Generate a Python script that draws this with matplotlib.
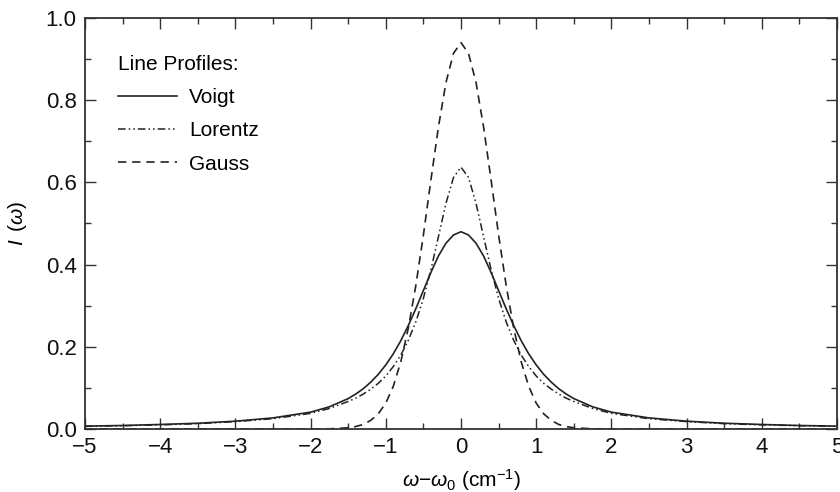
import matplotlib
matplotlib.use("Agg")
import matplotlib.pyplot as plt
from matplotlib.ticker import MultipleLocator

plt.rcParams['font.family'] = ['Liberation Sans', 'DejaVu Sans']
plt.rcParams['mathtext.fontset'] = 'custom'
plt.rcParams['mathtext.rm'] = 'Liberation Sans'
plt.rcParams['mathtext.it'] = 'Liberation Sans:italic'

# frequency offset (cm^-1)
x = [-5.0, -4.5, -4.0, -3.5, -3.0, -2.5, -2.0, -1.75, -1.5, -1.4, -1.3, -1.2,
     -1.1, -1.0, -0.9, -0.8, -0.7, -0.6, -0.5, -0.4, -0.3, -0.2, -0.1, 0.0,
     0.1, 0.2, 0.3, 0.4, 0.5, 0.6, 0.7, 0.8, 0.9, 1.0, 1.1, 1.2,
     1.3, 1.4, 1.5, 1.75, 2.0, 2.5, 3.0, 3.5, 4.0, 4.5, 5.0]

voigt = [0.007, 0.0085, 0.011, 0.014, 0.019, 0.027, 0.041, 0.054, 0.074, 0.085, 0.098, 0.114,
         0.133, 0.156, 0.183, 0.215, 0.252, 0.293, 0.337, 0.381, 0.421, 0.452, 0.472, 0.480,
         0.472, 0.452, 0.421, 0.381, 0.337, 0.293, 0.252, 0.215, 0.183, 0.156, 0.133, 0.114,
         0.098, 0.085, 0.074, 0.054, 0.041, 0.027, 0.019, 0.014, 0.011, 0.0085, 0.007]

lorentz = [0.0065, 0.008, 0.010, 0.013, 0.018, 0.025, 0.038, 0.050, 0.067, 0.075, 0.085, 0.097,
           0.111, 0.129, 0.152, 0.180, 0.216, 0.261, 0.318, 0.388, 0.468, 0.549, 0.612, 0.637,
           0.612, 0.549, 0.468, 0.388, 0.318, 0.261, 0.216, 0.180, 0.152, 0.129, 0.111, 0.097,
           0.085, 0.075, 0.067, 0.050, 0.038, 0.025, 0.018, 0.013, 0.010, 0.008, 0.0065]

gauss = [0.0, 0.0, 0.0, 0.0, 0.0, 0.0, 0.0, 0.0005, 0.003, 0.006, 0.011, 0.021,
         0.037, 0.063, 0.104, 0.164, 0.246, 0.350, 0.472, 0.606, 0.735, 0.843, 0.914, 0.940,
         0.914, 0.843, 0.735, 0.606, 0.472, 0.350, 0.246, 0.164, 0.104, 0.063, 0.037, 0.021,
         0.011, 0.006, 0.003, 0.0005, 0.0, 0.0, 0.0, 0.0, 0.0, 0.0, 0.0]

labels = ["Voigt", "Lorentz", "Gauss"]
xtick_labels = ['\u22125', '\u22124', '\u22123', '\u22122', '\u22121', '0', '1', '2', '3', '4', '5']
ytick_labels = ['0.0', '0.2', '0.4', '0.6', '0.8', '1.0']

W, H = 840, 492
fig = plt.figure(figsize=(W / 100, H / 100), dpi=100)
ax = fig.add_axes([85 / W, 1 - 429 / H, (837 - 85) / W, (429 - 18) / H])

lc = '#222222'
ax.plot(x, voigt, color=lc, lw=1.2, label=labels[0])
ax.plot(x, lorentz, color=lc, lw=1.1, dashes=[5, 2, 1, 2, 1, 2], label=labels[1])
ax.plot(x, gauss, color=lc, lw=1.2, dashes=[5, 3.5], label=labels[2])

ax.set_xlim(-5, 5)
ax.set_ylim(0, 1.0)
ax.xaxis.set_minor_locator(MultipleLocator(0.5))
ax.yaxis.set_minor_locator(MultipleLocator(0.1))
ax.set_xticks(range(-5, 6))
ax.set_xticklabels(xtick_labels)
ax.set_yticks([0, 0.2, 0.4, 0.6, 0.8, 1.0])
ax.set_yticklabels(ytick_labels)

ax.tick_params(which='both', direction='in', top=True, right=True, colors='#333333',
               labelcolor='#111111', labelsize=16, width=1.0)
ax.tick_params(which='major', length=8, pad=6)
ax.tick_params(which='minor', length=4.5)
for s in ax.spines.values():
    s.set_color('#333333')
    s.set_linewidth(1.3)

ax.set_xlabel(r'$\omega$' + '\u2212' + r'$\omega_0$ (cm$^{\mathregular{-1}}$)', fontsize=15, labelpad=6)
ax.set_ylabel(r'$I\,$ ($\omega$)', fontsize=15, labelpad=12)

leg = ax.legend(loc='upper left', bbox_to_anchor=((118 - 85) / (837 - 85), 1 - (55 - 18) / (429 - 18)),
                frameon=False, title='Line Profiles:', alignment='left', fontsize=15,
                title_fontsize=15, handlelength=2.85, handletextpad=0.55, labelspacing=0.68,
                borderpad=0, borderaxespad=0)

fig.savefig('out.png', dpi=100)
